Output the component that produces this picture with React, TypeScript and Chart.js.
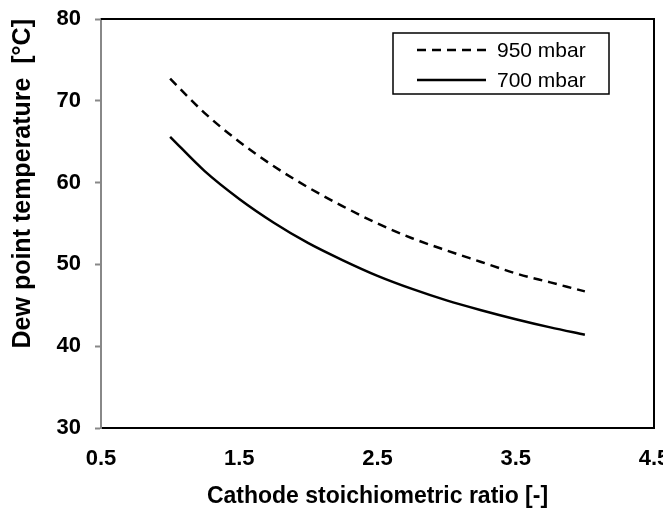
import React, { useEffect, useRef } from "react";
import { Chart, registerables } from "chart.js";

Chart.register(...registerables);

// ---- data ----
const stoichRatio = [1.0, 1.25, 1.5, 1.75, 2.0, 2.25, 2.5, 2.75, 3.0, 3.25, 3.5, 3.75, 4.0];
const dew950 = [72.7, 68.5, 65.0, 62.0, 59.4, 57.1, 55.0, 53.2, 51.7, 50.3, 48.9, 47.8, 46.7];
const dew700 = [65.6, 61.4, 58.0, 55.1, 52.6, 50.5, 48.6, 47.0, 45.6, 44.4, 43.3, 42.3, 41.4];
const seriesLabels = ["950 mbar", "700 mbar"];
const xTicks = [0.5, 1.5, 2.5, 3.5, 4.5];
const yTicks = [30, 40, 50, 60, 70, 80];
const xTitle = "Cathode stoichiometric ratio [-]";
const yTitle = "Dew point temperature  [°C]";

const FONT = "'Liberation Sans', Arial, Helvetica, sans-serif";

const framePlugin = {
  id: "frame",
  afterDatasetsDraw(chart: any) {
    const { ctx, chartArea } = chart;
    const { top, right, bottom, left } = chartArea;
    ctx.save();
    ctx.strokeStyle = "#000";
    ctx.lineWidth = 2;
    ctx.beginPath();
    ctx.moveTo(left, top);
    ctx.lineTo(right, top);
    ctx.lineTo(right, bottom);
    ctx.stroke();
    ctx.restore();
  },
};

const boxLegendPlugin = {
  id: "boxLegend",
  afterDraw(chart: any) {
    const { ctx, chartArea } = chart;
    const boxW = 216;
    const boxH = 61;
    const x0 = chartArea.right - 45 - boxW;
    const y0 = chartArea.top + 14;
    ctx.save();
    ctx.fillStyle = "#fff";
    ctx.fillRect(x0, y0, boxW, boxH);
    ctx.strokeStyle = "#000";
    ctx.lineWidth = 1.5;
    ctx.strokeRect(x0, y0, boxW, boxH);
    ctx.font = `21px ${FONT}`;
    ctx.textBaseline = "middle";
    ctx.textAlign = "left";
    chart.data.datasets.forEach((ds: any, i: number) => {
      const cy = y0 + 17 + i * 30;
      ctx.beginPath();
      ctx.strokeStyle = ds.borderColor;
      ctx.lineWidth = ds.borderWidth;
      ctx.setLineDash(ds.borderDash || []);
      ctx.moveTo(x0 + 24, cy);
      ctx.lineTo(x0 + 93, cy);
      ctx.stroke();
      ctx.setLineDash([]);
      ctx.fillStyle = "#000";
      ctx.fillText(ds.label, x0 + 104, cy + 1);
    });
    ctx.restore();
  },
};

export default function App() {
  const canvasRef = useRef<HTMLCanvasElement | null>(null);

  useEffect(() => {
    const canvas = canvasRef.current;
    if (!canvas) return;
    const chart = new Chart(canvas, {
      type: "line",
      data: {
        datasets: [
          {
            label: seriesLabels[0],
            data: stoichRatio.map((x, i) => ({ x, y: dew950[i] })),
            borderColor: "#000",
            borderWidth: 2.5,
            borderDash: [9, 6],
            pointRadius: 0,
            fill: false,
            cubicInterpolationMode: "monotone",
          },
          {
            label: seriesLabels[1],
            data: stoichRatio.map((x, i) => ({ x, y: dew700[i] })),
            borderColor: "#000",
            borderWidth: 2.5,
            pointRadius: 0,
            fill: false,
            cubicInterpolationMode: "monotone",
          },
        ],
      },
      options: {
        responsive: false,
        animation: false,
        devicePixelRatio: 1,
        layout: { padding: { top: 19, right: 9, left: 0, bottom: 0 } },
        plugins: {
          legend: { display: false },
          tooltip: { enabled: false },
        },
        scales: {
          x: {
            type: "linear",
            min: xTicks[0],
            max: xTicks[xTicks.length - 1],
            afterBuildTicks: (scale: any) => {
              scale.ticks = xTicks.map((v) => ({ value: v }));
            },
            afterFit: (scale: any) => {
              scale.height = 83;
              scale.paddingLeft = 0;
              scale.paddingRight = 0;
            },
            grid: { drawOnChartArea: false, drawTicks: false },
            border: { color: "#000", width: 2 },
            ticks: {
              color: "#000",
              padding: 18,
              maxRotation: 0,
              autoSkip: false,
              font: { family: FONT, size: 22, weight: "bold" },
              callback: (v: any) => Number(v).toFixed(1),
            },
            title: {
              display: true,
              text: xTitle,
              color: "#000",
              padding: { top: 0, bottom: 1 },
              font: { family: FONT, size: 23, weight: "bold" },
            },
          },
          y: {
            type: "linear",
            min: yTicks[0],
            max: yTicks[yTicks.length - 1],
            afterBuildTicks: (scale: any) => {
              scale.ticks = yTicks.map((v) => ({ value: v }));
            },
            afterFit: (scale: any) => {
              scale.width = 101;
              scale.paddingTop = 0;
              scale.paddingBottom = 0;
            },
            grid: {
              drawOnChartArea: false,
              drawTicks: true,
              tickLength: 6,
              tickColor: "#888",
              tickWidth: 2,
            },
            border: { color: "#888", width: 2 },
            ticks: {
              color: "#000",
              padding: 14,
              autoSkip: false,
              font: { family: FONT, size: 22, weight: "bold" },
              callback: (v: any) => String(v),
            },
            title: {
              display: true,
              text: yTitle,
              color: "#000",
              align: "end",
              padding: { top: 8, bottom: 0 },
              font: { family: FONT, size: 25, weight: "bold" },
            },
          },
        },
      },
      plugins: [framePlugin, boxLegendPlugin],
    } as any);
    return () => chart.destroy();
  }, []);

  return (
    <div style={{ position: "absolute", left: 0, top: 0, width: 663, height: 511, background: "#fff" }}>
      <canvas ref={canvasRef} width={663} height={511} />
    </div>
  );
}
